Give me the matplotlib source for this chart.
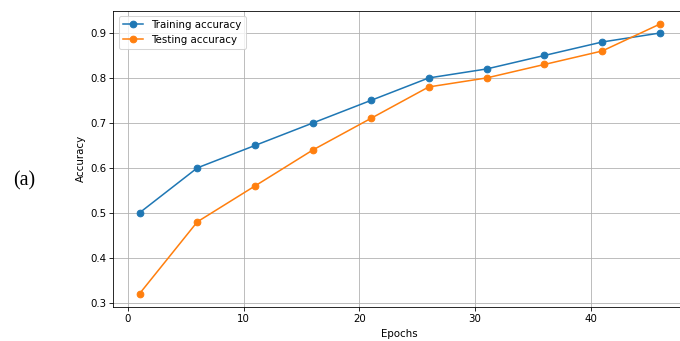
import matplotlib.pyplot as plt

# accuracy logged every 5 epochs
epochs = [1, 6, 11, 16, 21, 26, 31, 36, 41, 46]
train_acc = [0.50, 0.60, 0.65, 0.70, 0.75, 0.80, 0.82, 0.85, 0.88, 0.90]
test_acc = [0.32, 0.48, 0.56, 0.64, 0.71, 0.78, 0.80, 0.83, 0.86, 0.92]

DPI = 74
fig = plt.figure(figsize=(680 / DPI, 341 / DPI), dpi=DPI)
ax = fig.add_axes([0.1669, 0.0991, 0.842, 0.870])

ax.plot(epochs, train_acc, marker='o', ms=6.5, label='Training accuracy')
ax.plot(epochs, test_acc, marker='o', ms=6.5, label='Testing accuracy')
ax.set_xlabel('Epochs')
ax.set_ylabel('Accuracy')
ax.legend(loc='upper left')
ax.grid(True)

fig.text(13 / 680, 1 - 181 / 341, '(a)', family='Liberation Serif',
         fontsize=19.5, va='center', ha='left')

fig.savefig('out.png', dpi=DPI)
